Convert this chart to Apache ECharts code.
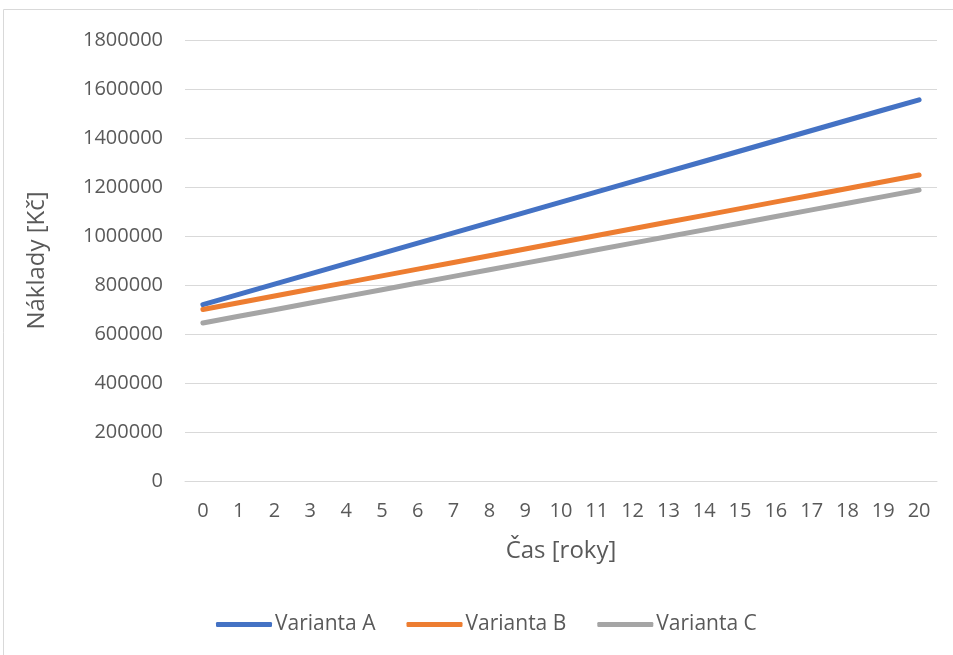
<!DOCTYPE html>
<html><head><meta charset="utf-8">
<script src="https://cdn.jsdelivr.net/npm/echarts@6/dist/echarts.min.js"></script>
<style>html,body{margin:0;padding:0;background:#fff}#c{width:953px;height:655px}</style>
</head><body><div id="c"></div>
<script>
const categories = ['0','1','2','3','4','5','6','7','8','9','10','11','12','13','14','15','16','17','18','19','20'];
const seriesNames = ['Varianta A','Varianta B','Varianta C'];
const variantaA = [720000,761800,803600,845400,887200,929000,970800,1012600,1054400,1096200,1138000,1179800,1221600,1263400,1305200,1347000,1388800,1430600,1472400,1514200,1556000];
const variantaB = [700000,727450,754900,782350,809800,837250,864700,892150,919600,947050,974500,1001950,1029400,1056850,1084300,1111750,1139200,1166650,1194100,1221550,1249000];
const variantaC = [645000,672150,699300,726450,753600,780750,807900,835050,862200,889350,916500,943650,970800,997950,1025100,1052250,1079400,1106550,1133700,1160850,1188000];
const colors = ['#4472C4','#ED7D31','#A5A5A5'];
const font = '"Open Sans", sans-serif';
const chart = echarts.init(document.getElementById('c'));
const mk = (name, data, color) => ({
  name, type: 'line', data, showSymbol: false, symbol: 'none',
  lineStyle: { width: 5, color, cap: 'round' }, itemStyle: { color },
  emphasis: { disabled: true }
});
chart.setOption({
  animation: false,
  textStyle: { fontFamily: font },
  graphic: [{ type: 'rect', shape: { x: 3.5, y: 9.5, width: 960, height: 660 }, style: { fill: 'none', stroke: '#d9d9d9', lineWidth: 1 } }],
  grid: { left: 185, right: 16, top: 40, bottom: 174 },
  xAxis: {
    type: 'category', data: categories, boundaryGap: true,
    name: 'Čas [roky]', nameLocation: 'middle', nameGap: 58,
    nameTextStyle: { fontSize: 24, color: '#595959', fontFamily: font },
    axisLine: { lineStyle: { color: '#d9d9d9', width: 1 } },
    axisTick: { show: false },
    axisLabel: { fontSize: 20, color: '#595959', margin: 20, fontFamily: font }
  },
  yAxis: {
    type: 'value', min: 0, max: 1800000, interval: 200000,
    name: 'Náklady [Kč]', nameLocation: 'middle', nameGap: 136,
    nameTextStyle: { fontSize: 24, color: '#595959', fontFamily: font },
    axisLine: { show: false }, axisTick: { show: false },
    axisLabel: { fontSize: 20, color: '#595959', margin: 22, fontFamily: font, formatter: v => String(v) },
    splitLine: { lineStyle: { color: '#d9d9d9', width: 1 } }
  },
  legend: {
    data: seriesNames, left: 211, top: 609,
    icon: 'roundRect', itemWidth: 56, itemHeight: 5, itemGap: 31,
    textStyle: { fontSize: 21, color: '#595959', fontFamily: font, padding: [0,0,0,-2] }
  },
  series: [mk(seriesNames[0], variantaA, colors[0]), mk(seriesNames[1], variantaB, colors[1]), mk(seriesNames[2], variantaC, colors[2])]
});
</script></body></html>
